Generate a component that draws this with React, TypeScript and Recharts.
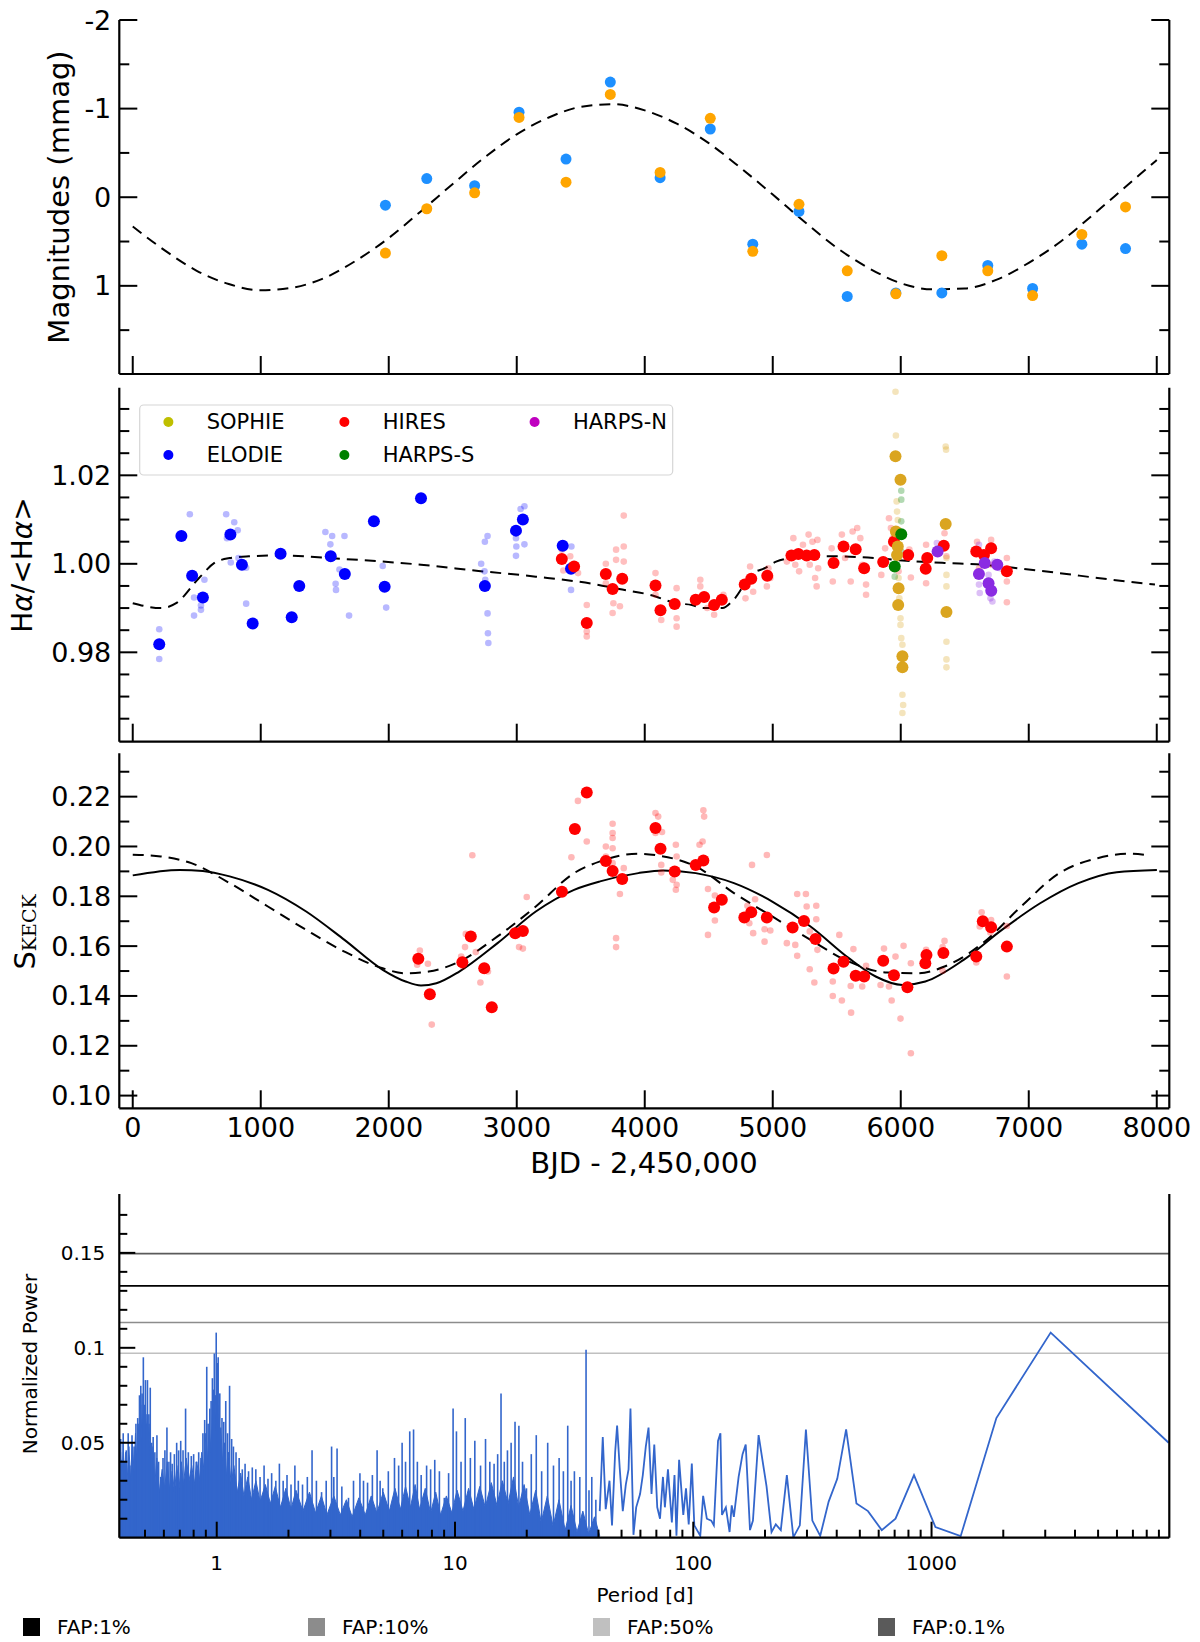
import React from "react";
import { ComposedChart, Scatter, Line, Area, XAxis, YAxis, ReferenceLine, ErrorBar } from "recharts";

const PAGE_W = 1200;
const PAGE_H = 1642;
const FONT = "'DejaVu Sans', sans-serif";
const frame = { stroke: "#000", strokeWidth: 2.2 };

// ---- shared time axis (BJD - 2,450,000)
const bjdDomain: [number, number] = [-105, 8098];
const bjdTicks = [0, 1000, 2000, 3000, 4000, 5000, 6000, 7000, 8000];

// ---- panel 1: photometry (mmag)
const photBJD = [1974, 2297, 2671, 3018, 3385, 3731, 4120, 4512, 4844, 5205, 5582, 5962, 6321, 6680, 7030, 7415, 7756];
const photBlue = [0.09, -0.21, -0.13, -0.96, -0.43, -1.3, -0.22, -0.77, 0.53, 0.16, 1.12, 1.08, 1.08, 0.77, 1.03, 0.53, 0.58];
const photOrange = [0.63, 0.13, -0.05, -0.9, -0.17, -1.16, -0.28, -0.89, 0.61, 0.08, 0.83, 1.09, 0.66, 0.83, 1.11, 0.42, 0.11];
const fitBJD = [0, 250, 500, 750, 1000, 1250, 1500, 1750, 2000, 2250, 2500, 2750, 3000, 3250, 3500, 3750, 4000, 4250, 4500, 4750, 5000, 5250, 5500, 5750, 6000, 6250, 6500, 6750, 7000, 7250, 7500, 7750, 8000];
const photFit = [0.33, 0.6, 0.83, 0.98, 1.05, 1.02, 0.91, 0.71, 0.46, 0.16, -0.15, -0.45, -0.71, -0.9, -1.02, -1.05, -0.98, -0.83, -0.61, -0.33, -0.03, 0.28, 0.57, 0.8, 0.97, 1.04, 1.03, 0.93, 0.74, 0.5, 0.2, -0.11, -0.42];
const magTicks = [-2, -1.5, -1, -0.5, 0, 0.5, 1, 1.5];
const magMajor = [-2, -1, 0, 1];

// ---- panel 2: H-alpha index, per instrument [bjd, value]
const elodieNight: [number, number][] = [
  [207, 0.9818], [380, 1.0063], [464, 0.9973], [548, 0.9924], [763, 1.0066], [853, 0.9998], [937, 0.9865],
  [1155, 1.0023], [1242, 0.9879], [1301, 0.995], [1547, 1.0017], [1657, 0.9977], [1884, 1.0096], [1968, 0.9948],
  [2252, 1.0148], [2751, 0.995], [2994, 1.0075], [3048, 1.01], [3359, 1.0041], [3424, 0.9989],
];
const elodieSingle: [number, number][] = [
  [207, 0.9852], [207, 0.9785], [446, 1.0112], [479, 0.9924], [479, 0.9883], [533, 0.9906], [533, 0.9896], [560, 0.9964],
  [730, 1.0112], [793, 1.0094], [820, 1.0076], [736, 1.0058], [826, 1.0013], [766, 1.0003], [886, 0.9991], [886, 0.991],
  [1505, 1.0072], [1558, 1.0063], [1544, 1.0044], [1654, 1.0063], [1615, 0.9987], [1585, 0.9955], [1588, 0.9941], [1690, 0.9883],
  [1953, 0.9995], [1980, 0.9901], [2772, 1.0063], [2751, 1.005], [2722, 1.0], [2748, 0.9983], [2754, 0.9964], [2772, 0.9888],
  [2775, 0.9843], [2778, 0.9821], [3030, 1.0124], [3060, 1.013], [2994, 1.0058], [2997, 1.0039], [2994, 1.0018], [3060, 1.0044],
  [3427, 1.0039], [3424, 0.9941],
];
const hiresNight: [number, number][] = [
  [3352, 1.0011], [3448, 0.9994], [3547, 0.9866], [3696, 0.9977], [3749, 0.9943], [3824, 0.9966], [4084, 0.9951], [4123, 0.9895],
  [4234, 0.9909], [4398, 0.9919], [4464, 0.9925], [4542, 0.9907], [4602, 0.9919], [4781, 0.9953], [4832, 0.9966], [4957, 0.9973],
  [5146, 1.0019], [5200, 1.0022], [5265, 1.0019], [5325, 1.002], [5475, 1.0002], [5553, 1.0039], [5648, 1.0033], [5714, 0.999],
  [5863, 1.0004], [5947, 1.005], [6058, 1.002], [6195, 0.9989], [6207, 1.0013], [6336, 1.0041], [6590, 1.0028], [6650, 1.002],
  [6706, 1.0035], [6829, 0.9983],
];
const hiresSingle: [number, number][] = [
  [3352, 1.0032], [3364, 0.9985], [3418, 1.0017], [3479, 0.9979], [3547, 0.9907], [3547, 0.9847], [3547, 0.9836],
  [3696, 0.9956], [3696, 1.0], [3755, 0.9911], [3749, 0.9889], [3776, 1.0032], [3776, 1.0009], [3806, 0.9904], [3836, 1.0109],
  [3836, 1.0039], [3836, 1.0005], [4084, 0.9979], [4084, 0.993], [4129, 0.9873], [4249, 0.9945], [4249, 0.9877], [4249, 0.9858],
  [4434, 0.9964], [4434, 0.9949], [4488, 0.99], [4542, 0.9885], [4614, 0.993], [4787, 0.9922], [4823, 0.9994], [4847, 0.9937],
  [4954, 0.9949], [4966, 0.999], [4981, 0.9968], [5161, 1.0058], [5176, 0.9998], [5206, 0.9983], [5236, 1.0043], [5280, 1.0066],
  [5289, 0.9998], [5310, 1.005], [5331, 0.9968], [5349, 1.0054], [5355, 0.999], [5110, 1.0005], [5343, 0.9949], [5460, 1.0035],
  [5469, 0.996], [5540, 1.0066], [5565, 1.0013], [5609, 0.996], [5624, 1.0073], [5660, 1.0081], [5684, 1.0058], [5699, 0.9998],
  [5729, 0.9953], [5729, 0.993], [5848, 0.9975], [5878, 1.0035], [5908, 1.0103], [5923, 1.0081], [5938, 1.0058], [5983, 0.9983],
  [6079, 0.9969], [6067, 1.0032], [6198, 1.0043], [6198, 0.9956], [6342, 1.0069], [6357, 1.0017], [6596, 1.005], [6617, 1.0028],
  [6706, 1.0054], [6706, 0.9998], [6829, 1.0013], [6829, 0.996], [6829, 0.9913], [6611, 0.999],
];
const sophieNight: [number, number][] = [
  [5959, 1.0243], [5998, 1.019], [5962, 1.0073], [5977, 1.0039], [5971, 1.002], [5983, 0.9945], [5980, 0.9907],
  [6013, 0.9791], [6013, 0.9766], [6351, 1.009], [6357, 0.9891],
];
const sophieSingle: [number, number][] = [
  [5959, 1.0389], [5962, 1.029], [5968, 1.0141], [5971, 1.0118], [5977, 1.0099], [5965, 0.9998], [5983, 0.9968], [5989, 0.9922],
  [5998, 0.9877], [6004, 0.9832], [6013, 0.9817], [6013, 0.9704], [6019, 0.9681], [6013, 0.9663], [5998, 0.9862], [6351, 1.0265],
  [6354, 1.0258], [6357, 1.0013], [6357, 0.9975], [6357, 0.9949], [6357, 0.9824], [6357, 0.9784], [6357, 0.9766],
];
const harpsSNight: [number, number][] = [[6004, 1.0067], [5953, 0.9994]];
const harpsSSingle: [number, number][] = [[6004, 1.0165], [6004, 1.0145], [6004, 1.0096], [6004, 1.0028], [5953, 0.9971]];
const harpsNNight: [number, number][] = [[6288, 1.0028], [6611, 0.9977], [6656, 1.0002], [6686, 0.9956], [6707, 0.9939], [6754, 0.9998]];
const harpsNSingle: [number, number][] = [
  [6282, 1.0047], [6611, 1.0043], [6611, 0.9953], [6617, 0.9934], [6686, 0.9975], [6701, 0.9922], [6716, 0.9915], [6731, 1.0005],
  [6775, 0.999], [6641, 1.002],
];
const haFit: [number, number][] = [
  [0, 0.9911], [219, 0.99], [339, 0.9911], [518, 0.9968], [638, 1.0002], [757, 1.0013], [907, 1.0017], [1146, 1.0019],
  [1535, 1.0013], [1953, 1.0005], [2252, 0.9998], [2701, 0.9984], [3149, 0.9971], [3627, 0.9953], [3800, 0.9943], [4039, 0.993],
  [4249, 0.9911], [4368, 0.9907], [4458, 0.99], [4608, 0.99], [4682, 0.9915], [4847, 0.9979], [4936, 0.999], [5026, 1.0005],
  [5146, 1.0013], [5445, 1.0017], [5744, 1.0014], [6043, 1.0007], [6342, 1.0002], [6641, 0.9998], [6940, 0.9989], [7239, 0.9979],
  [7538, 0.9968], [7986, 0.9953],
];
const haTicks = [0.965, 0.97, 0.975, 0.98, 0.985, 0.99, 0.995, 1.0, 1.005, 1.01, 1.015, 1.02, 1.025, 1.03, 1.035];
const haMajor = [0.98, 1.0, 1.02];
const instruments = [
  { name: "SOPHIE", color: "#bfbf00" },
  { name: "ELODIE", color: "#0000ff" },
  { name: "HIRES", color: "#ff0000" },
  { name: "HARPS-S", color: "#008000" },
  { name: "HARPS-N", color: "#bf00bf" },
];

// ---- panel 3: S index (Keck)
const sNight: [number, number][] = [
  [2231, 0.1549], [2321, 0.1407], [2575, 0.1535], [2641, 0.1639], [2746, 0.1511], [2805, 0.1355], [2988, 0.1652], [3048, 0.1661],
  [3353, 0.1818], [3454, 0.207], [3547, 0.2217], [3696, 0.1942], [3749, 0.1902], [3824, 0.1869], [4084, 0.2074], [4123, 0.1991],
  [4234, 0.19], [4398, 0.1926], [4458, 0.1944], [4542, 0.1755], [4602, 0.1786], [4778, 0.1715], [4832, 0.1736], [4954, 0.1715],
  [5155, 0.1675], [5244, 0.1701], [5334, 0.1629], [5475, 0.151], [5553, 0.1537], [5648, 0.1481], [5714, 0.1478], [5863, 0.1541],
  [5947, 0.1483], [6052, 0.1435], [6192, 0.1531], [6201, 0.1564], [6333, 0.1572], [6590, 0.1558], [6641, 0.17], [6706, 0.1676],
  [6829, 0.1598],
];
const sSingle: [number, number][] = [
  [2243, 0.1582], [2222, 0.1525], [2306, 0.1529], [2336, 0.1285], [2566, 0.1558], [2596, 0.1596], [2602, 0.1649], [2581, 0.1518],
  [2653, 0.1965], [2680, 0.1576], [2716, 0.1454], [2775, 0.1498], [3018, 0.1596], [3048, 0.159], [3078, 0.1797], [3427, 0.1957],
  [3478, 0.2183], [3547, 0.202], [3696, 0.2], [3696, 0.196], [3749, 0.2091], [3749, 0.2054], [3749, 0.2034], [3749, 0.1993],
  [3749, 0.1933], [3776, 0.1632], [3776, 0.1596], [3806, 0.1809], [3836, 0.1913], [4084, 0.2134], [4105, 0.212], [4084, 0.2054],
  [4135, 0.2058], [4129, 0.1926], [4129, 0.1896], [4243, 0.2007], [4249, 0.196], [4249, 0.1846], [4243, 0.1826], [4219, 0.1866],
  [4428, 0.2007], [4458, 0.2145], [4464, 0.212], [4452, 0.202], [4494, 0.1829], [4494, 0.1645], [4548, 0.1703], [4548, 0.1803],
  [4802, 0.1762], [4817, 0.1692], [4847, 0.1652], [4862, 0.1788], [4838, 0.1926], [4954, 0.1966], [4936, 0.1618], [4981, 0.1663],
  [4936, 0.1668], [5110, 0.1612], [5176, 0.1605], [5191, 0.1561], [5191, 0.1809], [5259, 0.1809], [5265, 0.1759], [5289, 0.1659],
  [5340, 0.1762], [5340, 0.1708], [5349, 0.1585], [5289, 0.1507], [5325, 0.1454], [5469, 0.14], [5469, 0.1458], [5520, 0.1645],
  [5540, 0.1382], [5612, 0.1333], [5630, 0.1588], [5609, 0.144], [5699, 0.1438], [5729, 0.1521], [5842, 0.1444], [5869, 0.159],
  [5908, 0.1438], [5929, 0.1382], [5959, 0.1558], [5998, 0.1309], [6022, 0.1601], [6079, 0.117], [6079, 0.1531], [6198, 0.1585],
  [6342, 0.1621], [6327, 0.1596], [6327, 0.1501], [6590, 0.1534], [6632, 0.1736], [6617, 0.1679], [6706, 0.1705], [6829, 0.1681],
  [6829, 0.1478], [6700, 0.1655],
];
const sFitSolid: [number, number][] = [
  [0, 0.1884], [368, 0.1906], [548, 0.1902], [757, 0.188], [1056, 0.1826], [1355, 0.1739], [1654, 0.1625], [1953, 0.1505],
  [2132, 0.1458], [2252, 0.1442], [2372, 0.1451], [2551, 0.1498], [2850, 0.1612], [3149, 0.1739], [3448, 0.1826], [3651, 0.186],
  [3950, 0.1893], [4144, 0.1904], [4398, 0.1893], [4697, 0.1853], [4996, 0.1779], [5295, 0.1679], [5594, 0.1552], [5804, 0.1478],
  [6013, 0.1444], [6192, 0.1458], [6491, 0.1545], [6790, 0.1665], [7089, 0.1772], [7388, 0.1853], [7687, 0.1897], [8001, 0.1906],
];
const sFitDashed: [number, number][] = [
  [0, 0.1967], [219, 0.196], [458, 0.1933], [757, 0.1853], [1056, 0.1759], [1355, 0.1665], [1654, 0.1578], [1953, 0.1511],
  [2132, 0.1491], [2312, 0.1498], [2551, 0.1538], [2850, 0.1639], [3149, 0.1759], [3448, 0.1893], [3651, 0.194], [3950, 0.1971],
  [4099, 0.1964], [4398, 0.192], [4697, 0.1813], [4996, 0.1719], [5295, 0.1625], [5594, 0.1538], [5893, 0.1494], [6132, 0.1491],
  [6342, 0.1518], [6641, 0.1612], [6940, 0.1759], [7239, 0.1893], [7538, 0.1953], [7777, 0.1971], [7941, 0.1964],
];
const sTicks = [0.1, 0.11, 0.12, 0.13, 0.14, 0.15, 0.16, 0.17, 0.18, 0.19, 0.2, 0.21, 0.22, 0.23];
const sMajor = [0.1, 0.12, 0.14, 0.16, 0.18, 0.2, 0.22];

// ---- panel 4: periodogram [period d, power]
// solid body of the dense short-period forest
const pgFloor: [number, number][] = [
  [0.39, 0.03], [0.395, 0.045], [0.4, 0.025], [0.405, 0.05], [0.41, 0.03], [0.415, 0.045], [0.42, 0.028], [0.428, 0.048],
  [0.435, 0.03], [0.442, 0.05], [0.45, 0.035], [0.456, 0.055], [0.462, 0.04], [0.468, 0.06], [0.474, 0.045], [0.48, 0.07],
  [0.486, 0.05], [0.492, 0.075], [0.498, 0.05], [0.505, 0.065], [0.512, 0.045], [0.52, 0.06], [0.53, 0.035], [0.54, 0.048],
  [0.55, 0.028], [0.56, 0.042], [0.575, 0.024], [0.59, 0.036], [0.605, 0.026], [0.62, 0.04], [0.635, 0.025], [0.65, 0.035],
  [0.665, 0.024], [0.68, 0.038], [0.695, 0.026], [0.71, 0.04], [0.725, 0.028], [0.745, 0.042], [0.765, 0.03], [0.785, 0.038],
  [0.805, 0.028], [0.825, 0.04], [0.845, 0.03], [0.865, 0.045], [0.885, 0.035], [0.9, 0.055], [0.915, 0.04], [0.93, 0.06],
  [0.945, 0.045], [0.96, 0.065], [0.975, 0.05], [0.99, 0.075], [1.0, 0.055], [1.01, 0.07], [1.025, 0.045], [1.04, 0.058],
  [1.06, 0.038], [1.08, 0.05], [1.1, 0.032], [1.12, 0.045], [1.15, 0.028], [1.18, 0.038], [1.22, 0.024], [1.26, 0.034],
  [1.3, 0.022], [1.35, 0.032], [1.4, 0.02], [1.46, 0.03], [1.52, 0.019], [1.6, 0.028], [1.68, 0.018], [1.76, 0.027],
  [1.85, 0.016], [1.95, 0.026], [2.05, 0.015], [2.15, 0.025], [2.3, 0.014], [2.45, 0.024], [2.6, 0.013], [2.75, 0.022],
  [2.9, 0.012], [3.1, 0.022], [3.3, 0.012], [3.5, 0.02], [3.7, 0.011], [3.95, 0.021], [4.2, 0.012], [4.45, 0.022],
  [4.7, 0.013], [5.0, 0.024], [5.3, 0.014], [5.6, 0.026], [5.9, 0.015], [6.2, 0.027], [6.5, 0.016], [6.8, 0.028],
  [7.1, 0.015], [7.5, 0.026], [7.9, 0.013], [8.3, 0.024], [8.7, 0.012], [9.2, 0.022], [9.7, 0.013], [10.2, 0.025],
  [10.8, 0.014], [11.4, 0.026], [12, 0.015], [12.7, 0.027], [13.4, 0.016], [14.2, 0.029], [15, 0.017], [15.8, 0.03],
  [16.7, 0.018], [17.6, 0.032], [18.5, 0.016], [19.5, 0.028], [20.6, 0.012], [21.8, 0.025], [23, 0.008], [24.4, 0.022],
  [25.8, 0.006], [27.3, 0.02], [29, 0.004], [30.7, 0.017], [32.5, 0.003], [34.4, 0.014], [36.4, 0.002], [38.5, 0.011],
  [40.5, 0.001],
];
const pgSpikes: [number, number][] = [
  [0.395, 0.052], [0.399, 0.041], [0.405, 0.055], [0.41, 0.04], [0.417, 0.046], [0.425, 0.055], [0.432, 0.038], [0.441, 0.054],
  [0.45, 0.048], [0.458, 0.06], [0.466, 0.063], [0.474, 0.075], [0.48, 0.08], [0.486, 0.076], [0.492, 0.095], [0.497, 0.07],
  [0.502, 0.083], [0.507, 0.06], [0.512, 0.083], [0.519, 0.065], [0.526, 0.079], [0.533, 0.05], [0.541, 0.053], [0.55, 0.045],
  [0.561, 0.054], [0.57, 0.04], [0.582, 0.032], [0.595, 0.042], [0.606, 0.046], [0.618, 0.058], [0.63, 0.04], [0.64, 0.045],
  [0.65, 0.039], [0.664, 0.044], [0.679, 0.05], [0.692, 0.046], [0.706, 0.051], [0.722, 0.046], [0.74, 0.068], [0.76, 0.045],
  [0.782, 0.043], [0.8, 0.044], [0.82, 0.04], [0.84, 0.045], [0.859, 0.042], [0.875, 0.055], [0.89, 0.062], [0.908, 0.09],
  [0.92, 0.06], [0.935, 0.068], [0.947, 0.072], [0.959, 0.084], [0.968, 0.078], [0.977, 0.097], [0.995, 0.108], [1.005, 0.092],
  [1.014, 0.095], [1.03, 0.076], [1.052, 0.063], [1.07, 0.061], [1.091, 0.072], [1.11, 0.055], [1.132, 0.08], [1.155, 0.052],
  [1.175, 0.048], [1.205, 0.045], [1.242, 0.042], [1.28, 0.036], [1.315, 0.039], [1.36, 0.035], [1.41, 0.037], [1.459, 0.036],
  [1.52, 0.032], [1.58, 0.038], [1.641, 0.031], [1.7, 0.034], [1.77, 0.03], [1.832, 0.039], [1.9, 0.03], [1.972, 0.033],
  [2.05, 0.028], [2.128, 0.038], [2.2, 0.03], [2.291, 0.028], [2.4, 0.032], [2.512, 0.046], [2.62, 0.03], [2.754, 0.024],
  [2.88, 0.03], [3.034, 0.048], [3.1, 0.032], [3.199, 0.047], [3.35, 0.027], [3.573, 0.021], [3.75, 0.03], [3.99, 0.034],
  [4.13, 0.03], [4.295, 0.029], [4.5, 0.033], [4.71, 0.046], [4.85, 0.03], [4.977, 0.026], [5.25, 0.035], [5.572, 0.042],
  [5.8, 0.038], [5.998, 0.05], [6.2, 0.04], [6.457, 0.056], [6.699, 0.057], [6.95, 0.04], [7.211, 0.033], [7.6, 0.038],
  [7.9, 0.036], [8.222, 0.041], [8.6, 0.035], [9.016, 0.021], [9.4, 0.034], [9.817, 0.068], [10.14, 0.056], [10.6, 0.04],
  [11.04, 0.063], [11.6, 0.042], [12.11, 0.051], [12.8, 0.038], [13.43, 0.052], [14.0, 0.04], [14.59, 0.039], [15.1, 0.044],
  [15.6, 0.076], [16.1, 0.04], [16.6, 0.046], [17.2, 0.05], [17.86, 0.061], [18.54, 0.059], [19.2, 0.04], [19.95, 0.026],
  [20.9, 0.044], [21.93, 0.054], [23.1, 0.035], [24.49, 0.05], [25.9, 0.038], [27.35, 0.042], [28.5, 0.035], [29.72, 0.059],
  [30.7, 0.03], [31.7, 0.035], [33.4, 0.032], [35.48, 0.099], [36.5, 0.025], [37.5, 0.032], [39.0, 0.02],
];
const pgLong: [number, number][] = [
  [40.5, 0.014], [41.7, 0.053], [42.9, 0.015], [44.5, 0.03], [45.6, 0.0065], [47.0, 0.045], [47.9, 0.059], [49.1, 0.037],
  [50.6, 0.014], [52.1, 0.028], [53.5, 0.036], [54.5, 0.068], [56.1, 0.0015], [57.6, 0.016], [59.8, 0.023], [61.4, 0.033],
  [63.2, 0.048], [64.9, 0.058], [66.8, 0.023], [68.6, 0.049], [70.6, 0.016], [72.5, 0.01], [74.6, 0.032], [76.0, 0.016],
  [78.3, 0.036], [81.3, 0.008], [83.4, 0.033], [85.0, 0.001], [87.2, 0.041], [90.8, 0.012], [93.2, 0.026], [95.7, 0.007],
  [98.6, 0.039], [101, 0.0065], [107, 0.001], [110, 0.022], [114, 0.01], [119, 0.009], [122, 0.0065], [127, 0.051],
  [130, 0.055], [132, 0.012], [137, 0.016], [142, 0.003], [145, 0.017], [148, 0.011], [155, 0.032], [161, 0.044],
  [166, 0.049], [173, 0.004], [178, 0.009], [188, 0.054], [203, 0.027], [213, 0.003], [222, 0.007], [233, 0.004],
  [247, 0.033], [263, 0.0002], [280, 0.0065], [297, 0.057], [316, 0.009], [341, 0.001], [370, 0.019], [402, 0.031],
  [438, 0.057], [484, 0.018], [541, 0.014], [618, 0.004], [706, 0.01], [844, 0.033], [1038, 0.0056], [1325, 0.0008],
  [1871, 0.063], [3162, 0.108], [9886, 0.05],
];
const faps = [
  { label: "FAP:1%", level: 0.1326, color: "#000000" },
  { label: "FAP:10%", level: 0.1133, color: "#8c8c8c" },
  { label: "FAP:50%", level: 0.0971, color: "#c0c0c0" },
  { label: "FAP:0.1%", level: 0.1496, color: "#5a5a5a" },
];
const periodTicks = [0.5, 0.6, 0.7, 0.8, 0.9, 1, 2, 3, 4, 5, 6, 7, 8, 9, 10, 20, 30, 40, 50, 60, 70, 80, 90, 100, 200, 300, 400, 500, 600, 700, 800, 900, 1000, 2000, 3000, 4000, 5000, 6000, 7000, 8000, 9000];
const periodMajor = [1, 10, 100, 1000];
const powerTicks = [0.01, 0.02, 0.03, 0.04, 0.05, 0.06, 0.07, 0.08, 0.09, 0.1, 0.11, 0.12, 0.13, 0.14, 0.15, 0.16, 0.17];
const powerMajor = [0.05, 0.1, 0.15];
const PG_BLUE = "#3366cc";

type Side = "left" | "right" | "top" | "bottom";
const near = (list: number[], v: number) => list.some((m) => Math.abs(m - v) < 1e-9);

function makeTick(side: Side, major: number[], o: { long: number; short: number; labels?: number[]; fmt?: (v: number) => string; size?: number; gap?: number }) {
  return (p: any) => {
    const v = Number(p.payload.value);
    const len = near(major, v) ? o.long : o.short;
    const { x, y } = p;
    const x2 = side === "left" ? x + len : side === "right" ? x - len : x;
    const y2 = side === "bottom" ? y - len : side === "top" ? y + len : y;
    const show = o.labels && near(o.labels, v);
    const txt = show ? (o.fmt ? o.fmt(v) : String(v)) : null;
    return (
      <g>
        <line x1={x} y1={y} x2={x2} y2={y2} stroke="#000" strokeWidth={2} />
        {txt !== null && side === "left" && (
          <text x={x - (o.gap ?? 8)} y={y} textAnchor="end" dominantBaseline="central" fontSize={o.size ?? 27} fontFamily={FONT} fill="#000">{txt}</text>
        )}
        {txt !== null && side === "bottom" && (
          <text x={x} y={y + (o.gap ?? 19)} textAnchor="middle" dominantBaseline="central" fontSize={o.size ?? 27} fontFamily={FONT} fill="#000">{txt}</text>
        )}
      </g>
    );
  };
}

function timeAxes(c: { yDomain: [number, number]; yTicks: number[]; yMajor: number[]; fmt: (v: number) => string; reversed?: boolean; bottomH: number; xLabels: boolean }) {
  const common = { type: "number" as const, domain: bjdDomain, ticks: bjdTicks, interval: 0, tickSize: 0, tickMargin: 0, tickLine: false, axisLine: frame, allowDataOverflow: true, dataKey: "x" };
  const ycommon = { type: "number" as const, domain: c.yDomain, ticks: c.yTicks, interval: 0, tickSize: 0, tickMargin: 0, tickLine: false, axisLine: frame, allowDataOverflow: true, reversed: c.reversed };
  return [
    <XAxis key="xb" xAxisId="b" {...common} height={c.bottomH} tick={makeTick("bottom", bjdTicks, { long: 18, short: 10, labels: c.xLabels ? bjdTicks : undefined })} />,
    <XAxis key="xt" xAxisId="t" {...common} orientation="top" height={0} tick={makeTick("top", bjdTicks, { long: 18, short: 10 })} />,
    <YAxis key="yl" yAxisId="l" {...ycommon} width={119.3} tick={makeTick("left", c.yMajor, { long: 18, short: 10, labels: c.yMajor, fmt: c.fmt })} />,
    <YAxis key="yr" yAxisId="r" {...ycommon} orientation="right" width={PAGE_W - 1169.3} tick={makeTick("right", c.yMajor, { long: 18, short: 10 })} />,
  ];
}

const pts = (a: [number, number][]) => a.map(([x, y]) => ({ x, y }));
const dot = (r: number, fill: string, op = 1) => (p: any) => <circle cx={p.cx} cy={p.cy} r={r} fill={fill} fillOpacity={op} />;

const layer: React.CSSProperties = { position: "absolute", left: 0, top: 0 };

function PhotPanel() {
  const blue = photBJD.map((x, i) => ({ x, y: photBlue[i] }));
  const orange = photBJD.map((x, i) => ({ x, y: photOrange[i] }));
  const fit = fitBJD.map((x, i) => ({ x, y: photFit[i] }));
  return (
    <div style={layer}>
      <ComposedChart width={PAGE_W} height={PAGE_H} margin={{ top: 20, right: 0, bottom: 0, left: 0 }}>
        {timeAxes({ yDomain: [-2, 1.995], yTicks: magTicks, yMajor: magMajor, fmt: (v) => String(v), reversed: true, bottomH: PAGE_H - 374, xLabels: false })}
        <Line data={fit} dataKey="y" xAxisId="b" yAxisId="l" type="monotone" stroke="#000" strokeWidth={2} strokeDasharray="11 7" dot={false} isAnimationActive={false} />
        <Scatter data={blue} dataKey="y" xAxisId="b" yAxisId="l" shape={dot(5.5, "#1e90ff")} isAnimationActive={false} />
        <Scatter data={orange} dataKey="y" xAxisId="b" yAxisId="l" shape={dot(5.5, "#ffa500")} isAnimationActive={false} />
      </ComposedChart>
    </div>
  );
}

function HalphaPanel() {
  const series: [([number, number][]), number, string, number][] = [
    [elodieSingle, 3.3, "#0000ff", 0.28], [hiresSingle, 3.3, "#ff0000", 0.25], [sophieSingle, 3.3, "#daa520", 0.3],
    [harpsSSingle, 3.3, "#008000", 0.3], [harpsNSingle, 3.3, "#8a2be2", 0.3],
    [elodieNight, 6, "#0000ff", 1], [hiresNight, 6, "#ff0000", 1], [sophieNight, 6, "#daa520", 1],
    [harpsSNight, 6, "#008000", 1], [harpsNNight, 6, "#8a2be2", 1],
  ];
  return (
    <div style={layer}>
      <ComposedChart width={PAGE_W} height={PAGE_H} margin={{ top: 387.7, right: 0, bottom: 0, left: 0 }}>
        {timeAxes({ yDomain: [0.9598, 1.0398], yTicks: haTicks, yMajor: haMajor, fmt: (v) => v.toFixed(2), bottomH: PAGE_H - 741.7, xLabels: false })}
        {series.map(([d, r, c, op], i) => (
          <Scatter key={i} data={pts(d)} dataKey="y" xAxisId="b" yAxisId="l" shape={dot(r, c, op)} isAnimationActive={false} />
        ))}
        <Line data={pts(haFit)} dataKey="y" xAxisId="b" yAxisId="l" type="monotone" stroke="#000" strokeWidth={2} strokeDasharray="11 7" dot={false} isAnimationActive={false} />
      </ComposedChart>
    </div>
  );
}

function SindexPanel() {
  return (
    <div style={layer}>
      <ComposedChart width={PAGE_W} height={PAGE_H} margin={{ top: 753.3, right: 0, bottom: 0, left: 0 }}>
        {timeAxes({ yDomain: [0.0949, 0.2374], yTicks: sTicks, yMajor: sMajor, fmt: (v) => v.toFixed(2), bottomH: PAGE_H - 1108.3, xLabels: true })}
        <Scatter data={pts(sSingle)} dataKey="y" xAxisId="b" yAxisId="l" shape={dot(3.3, "#ff0000", 0.28)} isAnimationActive={false} />
        <Scatter data={pts(sNight)} dataKey="y" xAxisId="b" yAxisId="l" shape={dot(6, "#ff0000")} isAnimationActive={false} />
        <Line data={pts(sFitDashed)} dataKey="y" xAxisId="b" yAxisId="l" type="monotone" stroke="#000" strokeWidth={2} strokeDasharray="11 7" dot={false} isAnimationActive={false} />
        <Line data={pts(sFitSolid)} dataKey="y" xAxisId="b" yAxisId="l" type="monotone" stroke="#000" strokeWidth={2} dot={false} isAnimationActive={false} />
      </ComposedChart>
    </div>
  );
}

function PeriodogramPanel() {
  const floor = pgFloor.map(([p, v]) => ({ p, v }));
  const spikes = pgSpikes.map(([p, v]) => ({ p, v, err: [v, 0] }));
  const long = pgLong.map(([p, v]) => ({ p, v }));
  return (
    <div style={layer}>
      <ComposedChart width={PAGE_W} height={PAGE_H} margin={{ top: 1194, right: 0, bottom: 0, left: 0 }}>
        <XAxis dataKey="p" type="number" scale="log" domain={[0.39, 9950]} ticks={periodTicks} interval={0} allowDataOverflow
          height={PAGE_H - 1537.7} tickSize={0} tickMargin={0} tickLine={false} axisLine={frame}
          tick={makeTick("bottom", periodMajor, { long: 16, short: 8, labels: periodMajor, size: 20, gap: 25 })} />
        <XAxis xAxisId="t" dataKey="p" type="number" scale="log" domain={[0.39, 9950]} ticks={[]} orientation="top" height={0} axisLine={frame} tick={false} tickLine={false} allowDataOverflow />
        <YAxis type="number" domain={[0, 0.181]} ticks={powerTicks} interval={0} width={119.3} tickSize={0} tickMargin={0} tickLine={false} axisLine={frame} allowDataOverflow
          tick={makeTick("left", powerMajor, { long: 16, short: 8, labels: powerMajor, size: 20, gap: 14 })} />
        <YAxis yAxisId="r" orientation="right" type="number" domain={[0, 0.181]} ticks={[]} width={PAGE_W - 1169.3} axisLine={frame} tick={false} tickLine={false} />
        {faps.map((f) => (
          <ReferenceLine key={f.label} y={f.level} stroke={f.color} strokeWidth={1.6} />
        ))}
        <Area data={floor} dataKey="v" type="linear" stroke={PG_BLUE} strokeWidth={1} fill={PG_BLUE} fillOpacity={1} dot={false} isAnimationActive={false} />
        <Scatter data={spikes} dataKey="v" shape={() => <g />} isAnimationActive={false}>
          <ErrorBar dataKey="err" direction="y" width={0} stroke={PG_BLUE} strokeWidth={1.6} isAnimationActive={false} />
        </Scatter>
        <Line data={long} dataKey="v" type="linear" stroke={PG_BLUE} strokeWidth={1.8} dot={false} isAnimationActive={false} />
      </ComposedChart>
    </div>
  );
}

function Labels() {
  const t = { fontFamily: FONT, fill: "#000" };
  const legendPos = [
    { x: 168.4, y: 422 }, { x: 168.4, y: 455 }, { x: 344.4, y: 422 }, { x: 344.4, y: 455 }, { x: 534.6, y: 422 },
  ];
  return (
    <svg width={PAGE_W} height={PAGE_H} style={{ ...layer, pointerEvents: "none" }}>
      <text {...t} x={59} y={197} fontSize={29} textAnchor="middle" dominantBaseline="central" transform="rotate(-90 59 197)">Magnitudes (mmag)</text>
      <text {...t} x={22} y={565} fontSize={28} textAnchor="middle" dominantBaseline="central" transform="rotate(-90 22 565)">
        H<tspan fontStyle="italic">α</tspan>/&lt;H<tspan fontStyle="italic">α</tspan>&gt;
      </text>
      <text {...t} x={25} y={932} fontSize={29} textAnchor="middle" dominantBaseline="central" transform="rotate(-90 25 932)">
        S<tspan fontFamily="'DejaVu Serif', serif" fontSize={19} dy={4}>KECK</tspan>
      </text>
      <text {...t} x={644} y={1163} fontSize={29} textAnchor="middle" dominantBaseline="central">BJD - 2,450,000</text>

      <rect x={139.7} y={405} width={533} height={70} rx={4} fill="#fff" fillOpacity={0.8} stroke="#d6d6d6" strokeWidth={1.2} />
      {instruments.map((ins, i) => (
        <g key={ins.name}>
          <circle cx={legendPos[i].x} cy={legendPos[i].y} r={5} fill={ins.color} />
          <text {...t} x={legendPos[i].x + 38.3} y={legendPos[i].y} fontSize={21} dominantBaseline="central">{ins.name}</text>
        </g>
      ))}

      <text {...t} x={30} y={1364} fontSize={20} textAnchor="middle" dominantBaseline="central" transform="rotate(-90 30 1364)">Normalized Power</text>
      <text {...t} x={645} y={1595} fontSize={20} textAnchor="middle" dominantBaseline="central">Period [d]</text>
      {faps.map((f, i) => (
        <g key={f.label}>
          <rect x={23 + i * 285} y={1618} width={17} height={18} fill={f.color} />
          <text {...t} x={57 + i * 285} y={1627} fontSize={20} dominantBaseline="central">{f.label}</text>
        </g>
      ))}
    </svg>
  );
}

export default function App() {
  return (
    <div style={{ position: "absolute", left: 0, top: 0, width: PAGE_W, height: PAGE_H, background: "#fff", overflow: "hidden" }}>
      <PhotPanel />
      <HalphaPanel />
      <SindexPanel />
      <PeriodogramPanel />
      <Labels />
    </div>
  );
}
